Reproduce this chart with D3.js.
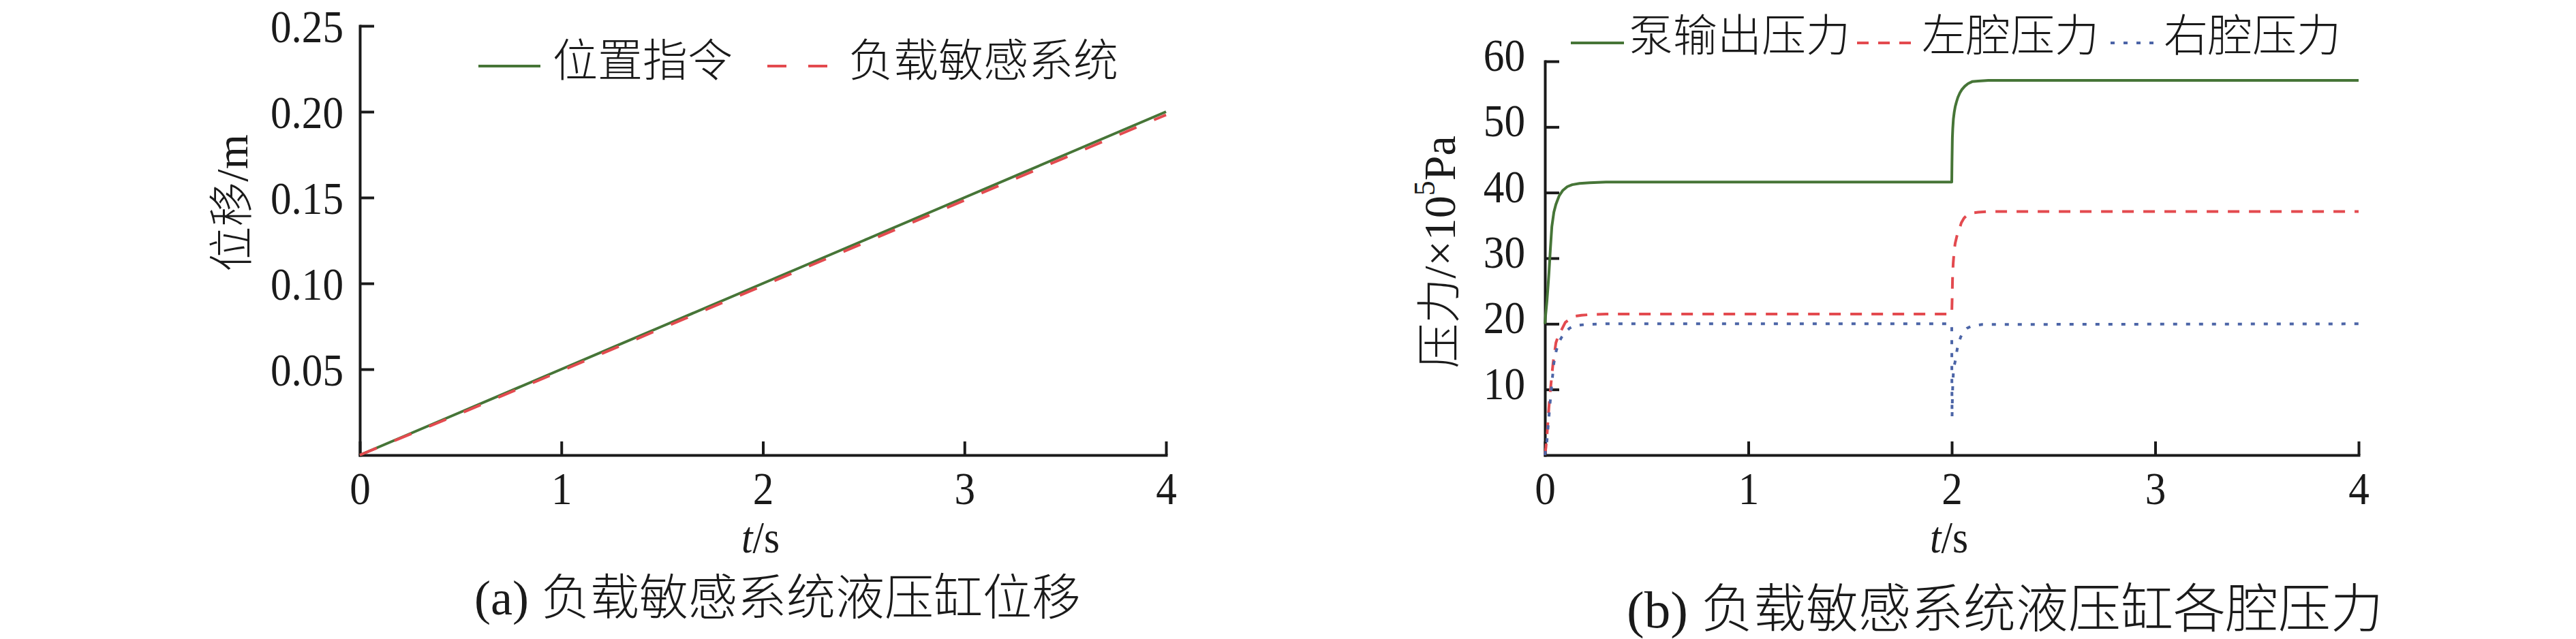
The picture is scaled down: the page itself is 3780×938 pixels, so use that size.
<!DOCTYPE html>
<html>
<head>
<meta charset="utf-8">
<script src="https://cdn.jsdelivr.net/npm/d3@7"></script>
<style>
  html, body { margin: 0; padding: 0; background: #fff; }
  svg { display: block; }
</style>
</head>
<body>
<svg id="chart" width="3780" height="938"></svg>
<script>
// ---------- Data: chart (a) ----------
const dispTime      = [0, 0.5, 1, 1.5, 2, 2.5, 3, 3.5, 4];
const dispCommand   = [0, 0.025, 0.05, 0.075, 0.1, 0.125, 0.15, 0.175, 0.2];
const dispLoadSense = [0, 0.0243, 0.0491, 0.0739, 0.0987, 0.1235, 0.1484, 0.1733, 0.1982];
const dispXTicks = [0, 1, 2, 3, 4];
const dispYTicks = [0.05, 0.10, 0.15, 0.20, 0.25];
const dispLegend = ["位置指令", "负载敏感系统"];

// ---------- Data: chart (b) ----------
const pumpTime = [0, 0.004, 0.01, 0.016, 0.02, 0.027, 0.034, 0.044, 0.054, 0.07, 0.087, 0.11, 0.134, 0.17, 0.22, 0.3,
                  2.0, 2.001, 2.003, 2.005, 2.008, 2.012, 2.017, 2.023, 2.03, 2.04, 2.05, 2.064, 2.08, 2.1, 2.13, 2.18, 4];
const pumpPressure = [20, 21.5, 23.5, 26, 27.8, 31.5, 34.8, 37.0, 38.2, 39.5, 40.3, 40.9, 41.2, 41.4, 41.5, 41.6,
                      41.6, 44.4, 48.3, 49.8, 51.2, 52.2, 53.1, 53.8, 54.5, 55.2, 55.7, 56.2, 56.6, 56.9, 57.0, 57.1, 57.1];

const leftTime = [0, 0.005, 0.01, 0.015, 0.02, 0.025, 0.03, 0.04, 0.054, 0.065, 0.077, 0.1, 0.137, 0.18, 0.22, 0.3,
                  2.0, 2.002, 2.004, 2.007, 2.012, 2.017, 2.027, 2.037, 2.047, 2.06, 2.08, 2.1, 2.13, 2.18, 4];
const leftPressure = [0, 1.2, 2.9, 5.2, 7.4, 9.2, 10.9, 14, 17.1, 18.1, 18.8, 20.2, 21.1, 21.3, 21.4, 21.5,
                      21.5, 24, 27.1, 29.2, 31.2, 32.3, 33.6, 34.4, 35.4, 36.1, 36.7, 36.9, 37.0, 37.1, 37.1];

const rightTime = [0, 0.005, 0.01, 0.017, 0.023, 0.029, 0.034, 0.044, 0.055, 0.067, 0.083, 0.1, 0.12, 0.144, 0.2, 0.3,
                   2.0, 2.0005, 2.0015, 2.003, 2.005, 2.008, 2.012, 2.017, 2.027, 2.035, 2.044, 2.058, 2.074, 2.1, 2.15, 4];
const rightPressure = [0, 1.0, 2.2, 4.8, 7.1, 9.2, 10.9, 14, 15.8, 17.1, 18.0, 18.7, 19.3, 19.7, 19.9, 20,
                       20, 12, 5.8, 8.5, 10.8, 12.6, 13.6, 14.3, 16.2, 17.2, 18.0, 18.8, 19.3, 19.7, 19.9, 20];
const presXTicks = [0, 1, 2, 3, 4];
const presYTicks = [10, 20, 30, 40, 50, 60];
const presLegend = ["泵输出压力", "左腔压力", "右腔压力"];

// ---------- Styles ----------
const GREEN = "#467537", RED = "#e34a4f", BLUE = "#4c65a7", INK = "#1a1a1a";
const FONT = "'Liberation Serif', 'Noto Sans CJK SC', serif";
const LW = 4;

const svg = d3.select("#chart");
svg.append("rect").attr("width", 3780).attr("height", 938).attr("fill", "#fff");

function zip(t, v) { return t.map((d, i) => [d, v[i]]); }

function drawAxes(g, x, y, xTicks, yTicks, yFmt, yPad, yDy) {
  const ax = g.append("g").attr("transform", `translate(0,${y.range()[0]})`)
    .call(d3.axisBottom(x).tickValues(xTicks).tickFormat(d3.format("d"))
      .tickSize(-20).tickSizeOuter(0).tickPadding(24));
  const ay = g.append("g").attr("transform", `translate(${x.range()[0]},0)`)
    .call(d3.axisLeft(y).tickValues(yTicks).tickFormat(yFmt)
      .tickSize(-21).tickSizeOuter(0));
  [ax, ay].forEach(a => {
    a.attr("font-family", FONT);
    a.select(".domain").attr("stroke", INK).attr("stroke-width", LW).attr("stroke-linecap", "square");
    a.selectAll(".tick line").attr("stroke", INK).attr("stroke-width", LW);
    a.selectAll(".tick text").attr("fill", INK).attr("font-family", FONT).attr("font-size", 68);
  });
  ax.selectAll(".tick text").attr("transform", "scale(0.9,1)");
  ay.selectAll(".tick text").attr("x", -yPad / 0.9).attr("dy", yDy).attr("transform", "scale(0.9,1)");
}

function xLabel(g, cx, cy) {
  const t = g.append("text")
    .attr("transform", `translate(${cx},${cy}) scale(0.9,1)`)
    .attr("text-anchor", "middle").attr("dominant-baseline", "central")
    .attr("font-family", FONT).attr("font-size", 66).attr("fill", INK);
  t.append("tspan").attr("font-style", "italic").text("t");
  t.append("tspan").text("/s");
}

function plotLine(g, x, y, data, color, dash) {
  g.append("path").datum(data)
    .attr("fill", "none").attr("stroke", color).attr("stroke-width", LW)
    .attr("stroke-dasharray", dash || null)
    .attr("stroke-linejoin", "round")
    .attr("d", d3.line().x(d => x(d[0])).y(d => y(d[1])));
}

function legendItem(g, x0, x1, ly, tx, ty, fs, color, dash, label) {
  g.append("line").attr("x1", x0).attr("x2", x1).attr("y1", ly).attr("y2", ly)
    .attr("stroke", color).attr("stroke-width", LW).attr("stroke-dasharray", dash || null);
  g.append("text").attr("x", tx).attr("y", ty).attr("dominant-baseline", "central")
    .attr("font-family", FONT).attr("font-weight", 300).attr("font-size", fs).attr("fill", INK).text(label);
}

// ---------- Chart (a) ----------
{
  const g = svg.append("g");
  const x = d3.scaleLinear().domain([0, 4]).range([528, 1711]);
  const y = d3.scaleLinear().domain([0, 0.25]).range([668, 38]);
  drawAxes(g, x, y, dispXTicks, dispYTicks, d3.format(".2f"), 24, "0.34em");
  plotLine(g, x, y, zip(dispTime, dispCommand), GREEN);
  plotLine(g, x, y, zip(dispTime, dispLoadSense), RED, "27,28");
  xLabel(g, 1116, 789);
  g.append("text").attr("transform", "translate(340,298) rotate(-90)")
    .attr("text-anchor", "middle").attr("dominant-baseline", "central")
    .attr("font-family", FONT).attr("font-weight", 300).attr("font-size", 66).attr("fill", INK).text("位移/m");
  legendItem(g, 702, 793, 97, 811, 89, 66, GREEN, null, dispLegend[0]);
  legendItem(g, 1126, 1217, 97, 1245, 89, 66, RED, "28,32", dispLegend[1]);
  g.append("text").attr("x", 696).attr("y", 878).attr("dominant-baseline", "central")
    .attr("font-family", FONT).attr("font-weight", 300).attr("font-size", 72).attr("fill", INK)
    .text("(a) 负载敏感系统液压缸位移");
}

// ---------- Chart (b) ----------
{
  const g = svg.append("g");
  const x = d3.scaleLinear().domain([0, 4]).range([2267, 3461]);
  const y = d3.scaleLinear().domain([0, 60]).range([668, 90]);
  drawAxes(g, x, y, presXTicks, presYTicks, d3.format("d"), 29, "0.2em");
  plotLine(g, x, y, zip(pumpTime, pumpPressure), GREEN);
  plotLine(g, x, y, zip(leftTime, leftPressure), RED, "17,14");
  plotLine(g, x, y, zip(rightTime, rightPressure), BLUE, "6,13");
  xLabel(g, 2860, 789);
  const yl = g.append("text").attr("transform", "translate(2112,370) rotate(-90)")
    .attr("text-anchor", "middle").attr("dominant-baseline", "central")
    .attr("font-family", FONT).attr("font-weight", 300).attr("font-size", 66).attr("fill", INK);
  yl.append("tspan").text("压力/×10");
  yl.append("tspan").attr("font-size", 44).attr("dy", -22).text("5");
  yl.append("tspan").attr("dy", 22).text("Pa");
  legendItem(g, 2305, 2383, 63, 2390, 53, 65, GREEN, null, presLegend[0]);
  legendItem(g, 2725, 2805, 63, 2820, 53, 65, RED, "17,14", presLegend[1]);
  legendItem(g, 3097, 3160, 63, 3175, 53, 65, BLUE, "6,13", presLegend[2]);
  g.append("text").attr("x", 2387).attr("y", 895).attr("dominant-baseline", "central")
    .attr("font-family", FONT).attr("font-weight", 300).attr("font-size", 77).attr("fill", INK)
    .text("(b) 负载敏感系统液压缸各腔压力");
}
</script>
</body>
</html>
